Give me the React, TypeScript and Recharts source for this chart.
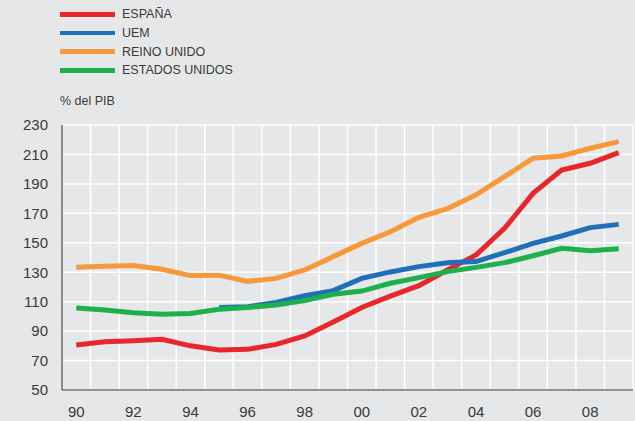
import React from 'react'
import { LineChart, Line, XAxis, YAxis, CartesianGrid } from 'recharts'

const years = [1990, 1991, 1992, 1993, 1994, 1995, 1996, 1997, 1998, 1999, 2000, 2001, 2002, 2003, 2004, 2005, 2006, 2007, 2008, 2009]
const espana = [80.6, 82.8, 83.5, 84.4, 80, 77.2, 77.6, 81, 86.7, 96.2, 106.1, 113.8, 120.9, 131.5, 141.7, 159.8, 183.6, 199.4, 204, 211.2]
const uem = [null, null, null, null, null, 106, 106.5, 109.5, 114, 117.5, 125.8, 130.2, 133.8, 136.5, 137.2, 143.3, 149.6, 154.6, 160.3, 162.5]
const reinoUnido = [133.3, 134, 134.5, 132, 127.7, 128, 123.8, 125.8, 131.5, 140.6, 149.6, 157.5, 167.3, 173.2, 182.5, 194.9, 207.4, 209, 214.2, 218.7]
const estadosUnidos = [105.7, 104.3, 102.5, 101.5, 102, 104.8, 106.1, 107.7, 110.7, 115, 117.2, 122.5, 126.3, 130.4, 133.3, 136.5, 141.2, 146.2, 144.6, 146]
const yTicks = [50, 70, 90, 110, 130, 150, 170, 190, 210, 230]
const xTicks = [1990, 1992, 1994, 1996, 1998, 2000, 2002, 2004, 2006, 2008]

const series = [
  { key: 'espana', name: 'ESPAÑA', color: '#e8262b' },
  { key: 'uem', name: 'UEM', color: '#1f6fba' },
  { key: 'reinoUnido', name: 'REINO UNIDO', color: '#f7993a' },
  { key: 'estadosUnidos', name: 'ESTADOS UNIDOS', color: '#1db14b' },
]

// drawing order: red sits under the others
const drawOrder = ['espana', 'reinoUnido', 'uem', 'estadosUnidos']

const data = years.map((year, i) => ({
  year,
  espana: espana[i],
  uem: uem[i],
  reinoUnido: reinoUnido[i],
  estadosUnidos: estadosUnidos[i],
}))

const font = '"Liberation Sans", Arial, Helvetica, sans-serif'
const textColor = '#3a3a3a'

export default function App() {
  return (
    <div
      style={{
        position: 'absolute', left: 0, top: 0, width: 635, height: 421,
        background: '#e6e7e8', fontFamily: font, color: textColor,
      }}
    >
      <div style={{ position: 'absolute', left: 60, top: 5 }}>
        {series.map((s) => (
          <div key={s.key} style={{ display: 'flex', alignItems: 'center', height: 18.7 }}>
            <div style={{ width: 55, height: 4.5, background: s.color, marginRight: 7 }} />
            <span style={{ fontSize: 12.5 }}>{s.name}</span>
          </div>
        ))}
      </div>
      <div style={{ position: 'absolute', left: 60, top: 94, fontSize: 12.5 }}>
        % del PIB
      </div>
      <LineChart width={635} height={421} data={data} margin={{ top: 125, right: 2, left: 0, bottom: 0 }}>
        <CartesianGrid
          stroke="#ffffff"
          strokeWidth={1.5}
          verticalCoordinatesGenerator={({ offset }: any) =>
            Array.from({ length: years.length }, (_, i) => offset.left + ((i + 1) * offset.width) / years.length)
          }
        />
        <XAxis
          dataKey="year"
          type="number"
          domain={[1989.5, 2009.5]}
          ticks={xTicks}
          tickFormatter={(v: number) => String(v).slice(2)}
          height={31}
          tickLine={false}
          tickMargin={10}
          axisLine={{ stroke: '#6d6e71', strokeWidth: 1.5 }}
          tick={{ fontSize: 15, fill: textColor, fontFamily: font }}
        />
        <YAxis
          domain={[50, 230]}
          ticks={yTicks}
          width={62}
          tickLine={false}
          tickMargin={8}
          axisLine={{ stroke: '#6d6e71', strokeWidth: 1.5 }}
          tick={{ fontSize: 15, fill: textColor, fontFamily: font }}
        />
        {drawOrder.map((k) => {
          const s = series.find((x) => x.key === k)!
          return (
            <Line
              key={k}
              type="linear"
              dataKey={k}
              name={s.name}
              stroke={s.color}
              strokeWidth={5}
              dot={false}
              activeDot={false}
              isAnimationActive={false}
            />
          )
        })}
      </LineChart>
    </div>
  )
}
